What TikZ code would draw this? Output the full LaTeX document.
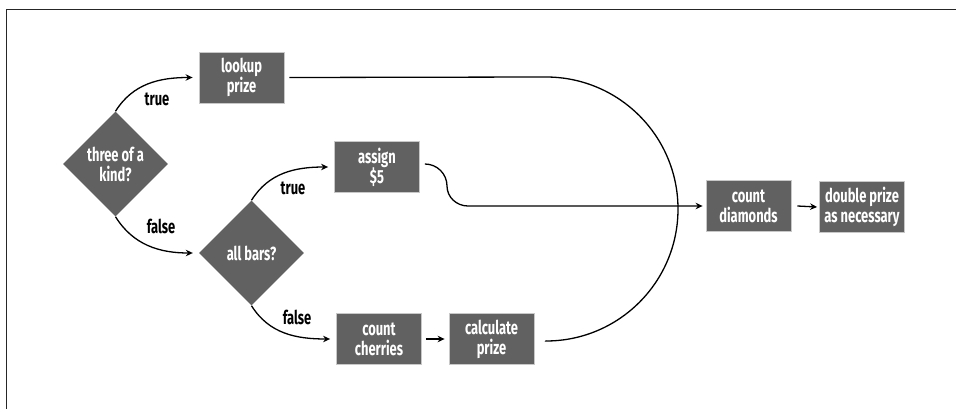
\documentclass[tikz,border=0pt]{standalone}
\usepackage{fontspec}
\setmainfont{Fira Sans}[FakeStretch=0.68]
\usetikzlibrary{shapes.geometric,arrows.meta}
\definecolor{boxfill}{HTML}{616161}
\definecolor{boxedge}{HTML}{C8C8C8}
\tikzset{
  x=1pt, y=-1pt,
  txt/.style={font=\fontsize{19}{20}\selectfont\bfseries, align=center},
  procbox/.style={txt, fill=boxfill, draw=boxedge, line width=0.8pt, text=white,
    minimum width=85pt, minimum height=51pt, inner sep=0pt},
  decision/.style={txt, diamond, aspect=1, fill=boxfill, text=white,
    minimum width=105pt, minimum height=105pt, inner sep=0pt},
  lbl/.style={txt},
  conn/.style={line width=1.3pt, draw=black},
  arr/.style={conn, -{Stealth[length=7pt,width=6.5pt]}},
}
\begin{document}
\begin{tikzpicture}
\useasboundingbox (0,0) rectangle (956,409);
% frame
\draw[line width=1pt, draw=black!85] (6,409) -- (6,10) -- (956,10);

% nodes
\node[decision] (three) at (115.5,164) {three of a\\kind?};
\node[procbox] (lookup) at (241.5,77.5) {lookup\\prize};
\node[decision] (bars) at (251.5,253) {all bars?};
\node[procbox] (assign) at (377,167) {assign\\\$5};
\node[procbox] (cherries) at (379,339) {count\\cherries};
\node[procbox] (calc) at (491.5,339) {calculate\\prize};
\node[procbox] (diamonds) at (748.5,206) {count\\diamonds};
\node[procbox] (double) at (862,207) {double prize\\as necessary};

% labels
\node[lbl] (ltrue1) at (157,99) {true};
\node[lbl] (lfalse1) at (161,226) {false};
\node[lbl] (ltrue2) at (293,188) {true};
\node[lbl] (lfalse2) at (297,317) {false};

% coordinates
\coordinate (arcTop) at (546,77);
\coordinate (wigA) at (447,186);
\coordinate (wigB) at (468,206);

% connectors
\draw[arr] (three.north) to[out=58,in=180] ([xshift=-6]lookup.west);
\draw[arr] (three.south) to[out=-58,in=180] ([xshift=-6]bars.west);
\draw[arr] (bars.north) to[out=58,in=180] ([xshift=-6]assign.west);
\draw[arr] (bars.south) to[out=-58,in=180] ([xshift=-6]cherries.west);
\draw[arr] ([xshift=4]cherries.east) -- ([xshift=-4]calc.west);
\draw[conn] ([xshift=5]lookup.east) -- (arcTop) arc[start angle=-90, end angle=90, radius=132] -- ([xshift=12,yshift=-1.5]calc.east);
\draw[arr] ([xshift=5,yshift=3]assign.east) to[out=0,in=90] (wigA) to[out=-90,in=180] (wigB) -- ([xshift=-3]diamonds.west);
\draw[arr] ([xshift=6]diamonds.east) -- ([xshift=-2]double.west);
\end{tikzpicture}
\end{document}
